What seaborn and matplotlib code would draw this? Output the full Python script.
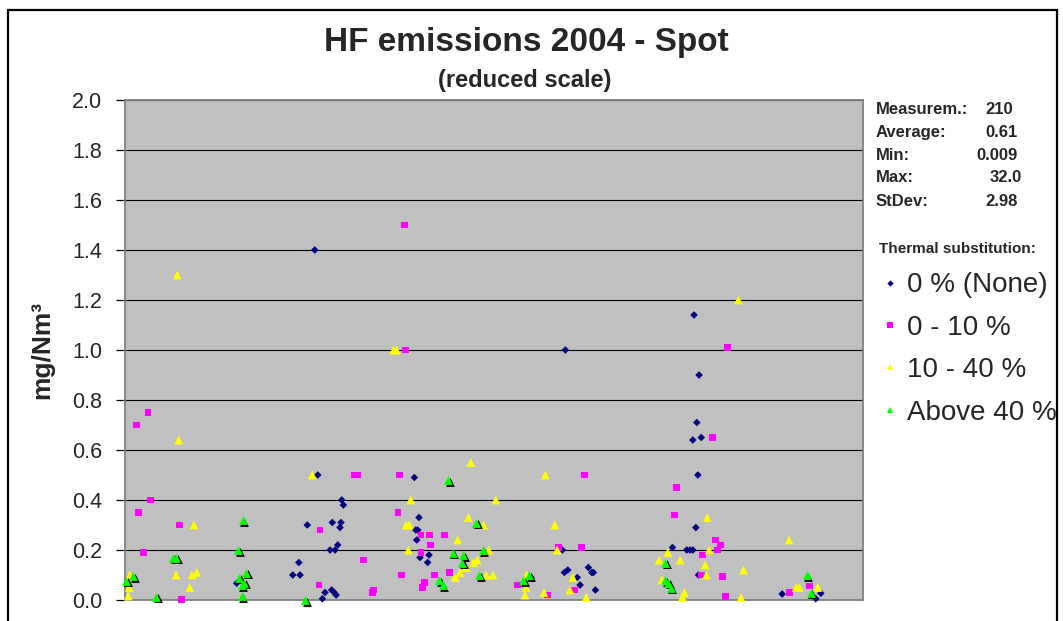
import numpy as np
import pandas as pd
import matplotlib
matplotlib.use("Agg")
import matplotlib.pyplot as plt
import matplotlib.transforms as mtransforms
from matplotlib.lines import Line2D
from matplotlib.patches import Rectangle
import seaborn as sns

# ---- data: spot HF measurements by day of year 2004 (mg/Nm3) ----
series_names = ["0 % (None)", "0 - 10 %", "10 - 40 %", "Above 40 %"]

none_day = [94.1, 95.6, 90.4, 86.2, 83.2, 86.8, 55.4,
            107.5, 108.3, 102.8, 107.1, 106.6, 101.7, 104.2, 105.5,
            99.2, 102.5, 103.8, 104.7, 97.9,
            143.5, 145.8, 144.2, 145.2, 144.7, 150.8, 146.3, 150.1,
            218.4, 216.9, 217.9, 219.6, 229.8, 231.5, 232.3, 224.3, 225.7, 233.3, 201.4,
            282.2, 284.7, 283.6, 281.6, 285.8, 284.1, 283.1, 271.5, 278.6, 280.2, 281.6, 284.4,
            325.9, 342.6, 345.1]
none_val = [1.40, 0.50, 0.30, 0.15, 0.10, 0.10, 0.067,
            0.40, 0.38, 0.31, 0.31, 0.29, 0.20, 0.20, 0.22,
            0.03, 0.04, 0.03, 0.02, 0.005,
            0.49, 0.33, 0.28, 0.28, 0.24, 0.18, 0.17, 0.15,
            1.00, 0.20, 0.11, 0.12, 0.13, 0.11, 0.11, 0.09, 0.06, 0.04, 0.09,
            1.14, 0.90, 0.71, 0.64, 0.65, 0.50, 0.29, 0.21, 0.20, 0.20, 0.20, 0.10,
            0.024, 0.005, 0.027]

low_day = [11.4, 5.5, 12.5, 6.6, 26.9, 9.1, 28.1,
           138.4, 139.0, 113.6, 115.2, 135.9, 135.4, 96.7, 146.8, 150.9, 158.6, 151.6,
           146.8, 118.2, 136.9, 153.3, 161.1, 96.2, 148.3, 147.7, 123.2, 122.7,
           227.7, 215.1, 226.5, 222.9, 209.5, 194.6,
           298.7, 291.5, 273.6, 272.3, 292.8, 295.1, 293.8, 286.5, 286.0, 296.3, 297.6,
           329.5, 339.4]
low_val = [0.75, 0.70, 0.40, 0.35, 0.30, 0.19, 0.003,
           1.50, 1.00, 0.50, 0.50, 0.50, 0.35, 0.28, 0.26, 0.26, 0.26, 0.22,
           0.19, 0.16, 0.10, 0.10, 0.11, 0.06, 0.07, 0.05, 0.04, 0.03,
           0.50, 0.21, 0.21, 0.04, 0.02, 0.06,
           1.01, 0.65, 0.45, 0.34, 0.24, 0.22, 0.20, 0.18, 0.10, 0.095, 0.013,
           0.03, 0.056]

mid_day = [25.9, 26.6, 92.9, 34.2, 25.3, 33.2, 35.6, 2.1, 1.6, 2.5, 32.1,
           133.2, 134.7, 171.5, 141.7, 139.4, 141.0, 170.3, 165.0, 140.5, 172.8, 174.7,
           166.2, 169.1, 163.7,
           208.5, 183.9, 177.9, 213.1, 214.3, 180.4, 179.1, 182.5, 222.1, 220.7, 228.7,
           207.8, 199.2, 198.4, 198.9,
           304.2, 288.8, 329.3, 289.7, 269.2, 264.9, 275.3, 287.7, 288.3, 306.7, 266.2,
           277.4, 276.4, 305.5,
           332.8, 334.4, 343.6]
mid_val = [1.30, 0.64, 0.50, 0.30, 0.10, 0.10, 0.11, 0.05, 0.016, 0.10, 0.05,
           1.00, 1.00, 0.55, 0.40, 0.30, 0.30, 0.33, 0.24, 0.20, 0.15, 0.16,
           0.11, 0.13, 0.09,
           0.50, 0.40, 0.30, 0.30, 0.20, 0.20, 0.10, 0.10, 0.09, 0.04, 0.01,
           0.03, 0.10, 0.02, 0.05,
           1.20, 0.33, 0.24, 0.20, 0.19, 0.16, 0.16, 0.14, 0.10, 0.12, 0.08,
           0.03, 0.01, 0.01,
           0.05, 0.05, 0.05]

high_day = [58.4, 24.0, 25.3, 56.2, 4.1, 0.5, 15.4, 56.5, 60.0, 57.9, 59.0, 57.9, 89.3,
            160.4, 174.1, 162.5, 167.8, 167.3, 155.9, 157.6, 175.7, 177.4, 197.6, 200.5,
            268.0, 268.0, 269.5, 270.7,
            338.1, 340.1]
high_val = [0.32, 0.17, 0.17, 0.20, 0.096, 0.077, 0.013, 0.09, 0.11, 0.06, 0.07, 0.016, 0.0,
            0.48, 0.31, 0.19, 0.18, 0.15, 0.08, 0.06, 0.10, 0.20, 0.08, 0.10,
            0.15, 0.08, 0.07, 0.05,
            0.10, 0.03]

stat_labels = ["Measurem.:", "Average:", "Min:", "Max:", "StDev:"]
stat_values = ["210", "0.61", "0.009", "32.0", "2.98"]

y_ticks = [0.0, 0.2, 0.4, 0.6, 0.8, 1.0, 1.2, 1.4, 1.6, 1.8, 2.0]

# ---- styling ----
colors = {series_names[0]: "#000080", series_names[1]: "#FF00FF",
          series_names[2]: "#FFFF00", series_names[3]: "#00FF00"}
markers = {series_names[0]: "D", series_names[1]: "s",
           series_names[2]: "^", series_names[3]: "^"}
sizes = {series_names[0]: 15, series_names[1]: 25,
         series_names[2]: 40, series_names[3]: 40}

sns.set_style("white")
plt.rcParams["font.family"] = ["Liberation Sans", "DejaVu Sans"]

frames = []
for name, d, v in zip(series_names,
                      [none_day, low_day, mid_day, high_day],
                      [none_val, low_val, mid_val, high_val]):
    frames.append(pd.DataFrame({"day": d, "value": v, "series": name}))
df = pd.concat(frames, ignore_index=True)
df_low = df[df["series"] != series_names[3]]
df_high = df[df["series"] == series_names[3]]

W, H = 1063, 621
fig = plt.figure(figsize=(W / 100, H / 100), dpi=100)
ax = fig.add_axes([125 / W, 21 / H, 738 / W, 500 / H])
ax.set_facecolor("#C0C0C0")

# first three groups
sns.scatterplot(data=df_low, x="day", y="value", hue="series", style="series",
                size="series", palette=colors, markers=markers, sizes=sizes,
                linewidth=0, legend=False, clip_on=False, zorder=3, ax=ax)
# black drop shadow under the "above 40 %" triangles
shadow = mtransforms.offset_copy(ax.transData, fig=fig, x=1.6, y=-1.6, units="dots")
sns.scatterplot(data=df_high, x="day", y="value", color="black", marker="^",
                s=sizes[series_names[3]], linewidth=0, legend=False,
                clip_on=False, zorder=3, transform=shadow, ax=ax)
sns.scatterplot(data=df_high, x="day", y="value", color=colors[series_names[3]],
                marker="^", s=sizes[series_names[3]], linewidth=0, legend=False,
                clip_on=False, zorder=3, ax=ax)

ax.set_xlim(0, 366)
ax.set_ylim(0, 2.0)
ax.set_xticks([])
ax.set_yticks(y_ticks)
ax.set_yticklabels([f"{t:.1f}" for t in y_ticks])
ax.set_xlabel("")
ax.set_ylabel("")
ax.tick_params(axis="y", direction="out", length=6.5, width=0.9, color="black",
               pad=10, labelsize=15.5, left=True)
ax.yaxis.grid(True, color="black", linewidth=0.8)
ax.xaxis.grid(False)
ax.set_axisbelow(True)
for sp in ax.spines.values():
    sp.set_visible(True)
    sp.set_color("#808080")
    sp.set_linewidth(1.3)

# titles
fig.text(526 / W, 1 - 43 / H, "HF emissions 2004 - Spot", ha="center", va="center",
         fontsize=24, fontweight="bold")
fig.text(525 / W, 1 - 81 / H, "(reduced scale)", ha="center", va="center",
         fontsize=17, fontweight="bold")
fig.text(42 / W, 1 - 350 / H, "mg/Nm³", rotation=90, ha="center", va="center",
         fontsize=19, fontweight="bold")

# summary statistics
row_y = [109, 132, 155, 178, 201]
val_x = [1013, 1018, 1018, 1022, 1018]
for lab, val, yy, xx in zip(stat_labels, stat_values, row_y, val_x):
    fig.text(876 / W, 1 - yy / H, lab, ha="left", va="center",
             fontsize=12, fontweight="bold")
    fig.text(xx / W, 1 - yy / H, val, ha="right", va="center",
             fontsize=12, fontweight="bold")

# legend
handles = [
    Line2D([], [], linestyle="none", marker="D", markersize=3.2,
           markerfacecolor=colors[series_names[0]], markeredgewidth=0),
    Line2D([], [], linestyle="none", marker="s", markersize=4.3,
           markerfacecolor=colors[series_names[1]], markeredgewidth=0),
    Line2D([], [], linestyle="none", marker="^", markersize=5.0,
           markerfacecolor=colors[series_names[2]], markeredgewidth=0),
    Line2D([], [], linestyle="none", marker="^", markersize=5.0,
           markerfacecolor=colors[series_names[3]], markeredgewidth=0),
]
leg = ax.legend(handles, series_names, loc="upper left",
                bbox_to_anchor=(879 / W, 1 - 242 / H), bbox_transform=fig.transFigure,
                frameon=False, title="Thermal substitution:",
                title_fontproperties={"weight": "bold", "size": 11},
                alignment="left", fontsize=20, handlelength=0.8,
                handletextpad=0.2, labelspacing=0.59, borderpad=0, borderaxespad=0)

# outer chart border
fig.add_artist(Rectangle((8 / W, -0.2), (1057 - 8) / W, 0.2 + (1 - 10 / H),
                         transform=fig.transFigure, fill=False, edgecolor="black",
                         linewidth=1.6, clip_on=False))

fig.savefig("out.png", dpi=100)
